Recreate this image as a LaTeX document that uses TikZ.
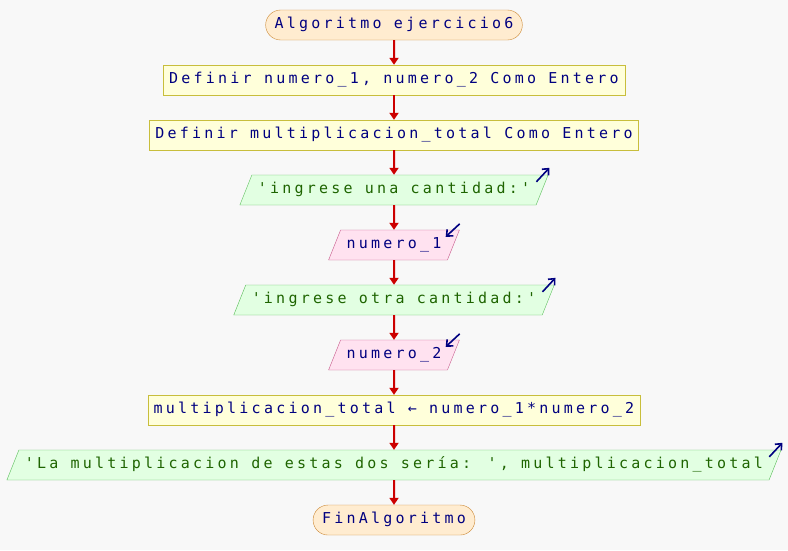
\documentclass[tikz,border=0pt]{standalone}
\usepackage{fontspec}
\newfontfamily\psfont[Ligatures=TeXOff,LetterSpace=21.5]{DejaVu Sans Mono}
\usetikzlibrary{positioning,shapes.geometric,shapes.misc,arrows.meta,calc}

\definecolor{fondo}{RGB}{248,248,248}
\definecolor{termfill}{RGB}{255,236,208}
\definecolor{termdraw}{RGB}{204,136,51}
\definecolor{procfill}{RGB}{255,255,218}
\definecolor{procdraw}{RGB}{200,190,60}
\definecolor{outfill}{RGB}{226,255,226}
\definecolor{outdraw}{RGB}{90,190,90}
\definecolor{infill}{RGB}{255,226,240}
\definecolor{indraw}{RGB}{200,90,140}
\definecolor{flowred}{RGB}{204,0,0}
\definecolor{txtblue}{RGB}{0,0,128}
\definecolor{txtgreen}{RGB}{30,100,0}

\tikzset{
  base/.style={text height=11pt, text depth=4pt, inner xsep=6pt, inner ysep=7.5pt,
    font=\psfont\fontsize{15}{17}\selectfont, text=txtblue},
  terminal/.style={base, rounded rectangle, inner xsep=7pt, draw=termdraw, fill=termfill},
  proc/.style={base, rectangle, draw=procdraw, fill=procfill},
  outp/.style={base, trapezium, trapezium left angle=68.2, trapezium right angle=111.8,
    draw=outdraw, fill=outfill, text=txtgreen},
  inp/.style={base, trapezium, trapezium left angle=68.2, trapezium right angle=111.8,
    draw=indraw, fill=infill},
  flow/.style={draw=flowred, line width=2pt, -{Triangle[length=7pt,width=9pt]}},
  iomark/.style={draw=txtblue, line width=1.6pt, -{Straight Barb[length=5pt,width=9pt]}}
}

\begin{document}
\begin{tikzpicture}[x=1pt,y=-1pt,node distance=24.6pt]

  \fill[fondo] (0,0) rectangle (788,550);
  \useasboundingbox (0,0) rectangle (788,550);

  \node[terminal] (inicio) at (394,25) {Algoritmo ejercicio6};
  \node[proc, below=of inicio] (def1) {Definir numero\_1, numero\_2 Como Entero};
  \node[proc, below=of def1] (def2) {Definir multiplicacion\_total Como Entero};
  \node[outp, below=of def2] (esc1) {'ingrese una cantidad:'};
  \node[inp, below=of esc1] (lee1) {numero\_1};
  \node[outp, below=of lee1] (esc2) {'ingrese otra cantidad:'};
  \node[inp, below=of esc2] (lee2) {numero\_2};
  \node[proc, below=of lee2] (asig) {multiplicacion\_total ← numero\_1*numero\_2};
  \node[outp, below=of asig] (esc3) {'La multiplicacion de estas dos sería: ', multiplicacion\_total};
  \node[terminal, below=of esc3] (fin) {FinAlgoritmo};

  % flujo
  \foreach \a/\b in {inicio/def1,def1/def2,def2/esc1,esc1/lee1,lee1/esc2,esc2/lee2,lee2/asig,asig/esc3,esc3/fin}{
    \draw[flow] (\a) -- (\b);
  }

  % marcas de entrada/salida
  \foreach \n in {esc1,esc2,esc3}{
    \draw[iomark] ($(\n.top right corner)+(-12,7)$) -- ($(\n.top right corner)+(1,-7)$);
  }
  \foreach \n in {lee1,lee2}{
    \draw[iomark] ($(\n.top right corner)+(0,-6)$) -- ($(\n.top right corner)+(-14,7)$);
  }

\end{tikzpicture}
\end{document}
